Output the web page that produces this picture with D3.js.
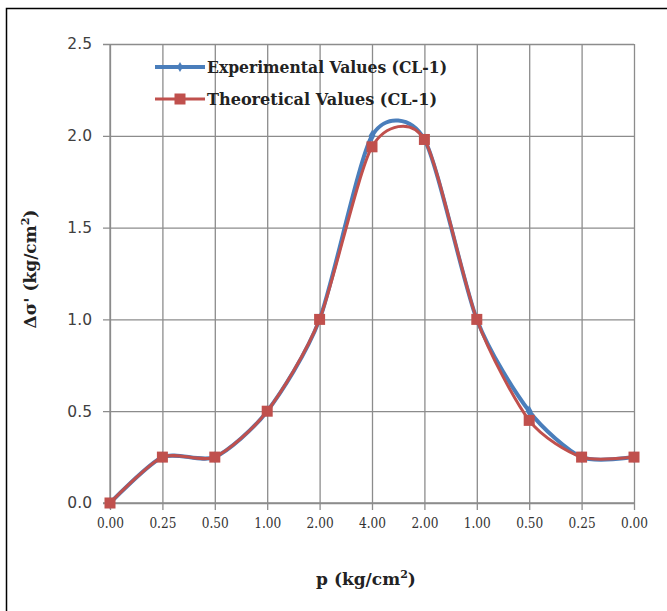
<!DOCTYPE html>
<html>
<head>
<meta charset="utf-8">
<script src="https://cdn.jsdelivr.net/npm/d3@7"></script>
<style>
  html, body { margin: 0; padding: 0; background: #fff; }
  svg { display: block; }
</style>
</head>
<body>
<svg id="chart" width="667" height="611"></svg>
<script>
// Loading sequence: applied pressure steps, loading then unloading
const pLabels = ["0.00", "0.25", "0.50", "1.00", "2.00", "4.00", "2.00", "1.00", "0.50", "0.25", "0.00"];
// Δσ' (kg/cm²) at each step
const experimental = [0, 0.25, 0.25, 0.50, 1.00, 2.00, 1.98, 1.00, 0.50, 0.25, 0.25];
const theoretical  = [0, 0.25, 0.25, 0.50, 1.00, 1.94, 1.98, 1.00, 0.45, 0.25, 0.25];
const yTicks = [0, 0.5, 1.0, 1.5, 2.0, 2.5];
const seriesNames = ["Experimental Values (CL-1)", "Theoretical Values (CL-1)"];

const svg = d3.select("#chart");
const serif = "'DejaVu Serif', 'Liberation Serif', serif";
const sans = "'DejaVu Sans', 'Liberation Sans', sans-serif";

const x = d3.scalePoint().domain(d3.range(pLabels.length)).range([110, 634]);
const y = d3.scaleLinear().domain([0, 2.5]).range([503, 44]);

// frame around the chart area
svg.append("path")
  .attr("d", "M6.5,611 L6.5,8.5 L667,8.5")
  .attr("fill", "none").attr("stroke", "#000").attr("stroke-width", 1.5);

const gridColor = "#8c8c8c";

// horizontal gridlines + y axis
const yAxis = d3.axisLeft(y).tickValues(yTicks).tickFormat(d3.format(".1f"))
  .tickSize(-(634 - 110)).tickPadding(18);
const gy = svg.append("g").attr("transform", "translate(110,0)").call(yAxis);
gy.select(".domain").remove();
gy.selectAll(".tick line").attr("stroke", gridColor).attr("stroke-width", 1.3).attr("x1", -7);
gy.selectAll(".tick text").attr("font-family", sans).attr("font-size", 15.5).attr("fill", "#404040");

// vertical gridlines + x axis
const xAxis = d3.axisBottom(x).tickFormat(i => pLabels[i])
  .tickSize(-(503 - 44)).tickPadding(14);
const gx = svg.append("g").attr("transform", "translate(0,503)").call(xAxis);
gx.select(".domain").remove();
gx.selectAll(".tick line").attr("stroke", gridColor).attr("stroke-width", 1.3).attr("y1", 7);
gx.selectAll(".tick text").attr("font-family", serif).attr("font-size", 15).attr("fill", "#333")
  .attr("textLength", 27).attr("lengthAdjust", "spacingAndGlyphs");

// axis baselines
svg.append("line").attr("x1", 110).attr("x2", 110).attr("y1", 44).attr("y2", 503)
  .attr("stroke", gridColor).attr("stroke-width", 1.3);
svg.append("line").attr("x1", 103).attr("x2", 634).attr("y1", 503).attr("y2", 503)
  .attr("stroke", gridColor).attr("stroke-width", 1.3);

const blue = "#4a7ebb";
const red = "#c0504d";

const line = d3.line()
  .x((d, i) => x(i))
  .y(d => y(d))
  .curve(d3.curveCardinal.tension(0.25));

// experimental series
svg.append("path").datum(experimental)
  .attr("d", line).attr("fill", "none")
  .attr("stroke", blue).attr("stroke-width", 4).attr("stroke-linejoin", "round");
svg.selectAll(".mExp").data(experimental).enter().append("path")
  .attr("class", "mExp")
  .attr("d", d3.symbol(d3.symbolDiamond, 40))
  .attr("transform", (d, i) => `translate(${x(i)},${y(d)})`)
  .attr("fill", blue);

// theoretical series
svg.append("path").datum(theoretical)
  .attr("d", line).attr("fill", "none")
  .attr("stroke", red).attr("stroke-width", 3).attr("stroke-linejoin", "round");
svg.selectAll(".mTh").data(theoretical).enter().append("rect")
  .attr("class", "mTh")
  .attr("x", (d, i) => x(i) - 5.5).attr("y", d => y(d) - 5.5)
  .attr("width", 11).attr("height", 11)
  .attr("fill", red);

// legend
const legend = svg.append("g");
const legendRows = [
  { name: seriesNames[0], color: blue, width: 4, marker: "diamond", yy: 67, len: 240 },
  { name: seriesNames[1], color: red, width: 3, marker: "square", yy: 99, len: 230 }
];
legendRows.forEach(r => {
  legend.append("line").attr("x1", 155).attr("x2", 205).attr("y1", r.yy).attr("y2", r.yy)
    .attr("stroke", r.color).attr("stroke-width", r.width);
  if (r.marker === "square") {
    legend.append("rect").attr("x", 174.5).attr("y", r.yy - 5.5).attr("width", 11).attr("height", 11)
      .attr("fill", r.color);
  } else {
    legend.append("path").attr("d", d3.symbol(d3.symbolDiamond, 30))
      .attr("transform", `translate(180,${r.yy})`).attr("fill", r.color);
  }
  legend.append("text").attr("x", 207).attr("y", r.yy + 6)
    .attr("font-family", serif).attr("font-weight", "bold").attr("font-size", 16)
    .attr("textLength", r.len).attr("lengthAdjust", "spacingAndGlyphs")
    .attr("fill", "#222").text(r.name);
});

// axis titles
const yTitle = svg.append("text")
  .attr("transform", "translate(36,269) rotate(-90)")
  .attr("text-anchor", "middle")
  .attr("font-family", serif).attr("font-weight", "bold").attr("font-size", 17).attr("fill", "#222");
yTitle.append("tspan").text("Δσ' (kg/cm");
yTitle.append("tspan").attr("dy", -7).attr("font-size", 11).text("2");
yTitle.append("tspan").attr("dy", 7).text(")");

const xTitle = svg.append("text")
  .attr("x", 366).attr("y", 585)
  .attr("text-anchor", "middle")
  .attr("font-family", serif).attr("font-weight", "bold").attr("font-size", 17).attr("fill", "#222");
xTitle.append("tspan").text("p (kg/cm");
xTitle.append("tspan").attr("dy", -7).attr("font-size", 11).text("2");
xTitle.append("tspan").attr("dy", 7).text(")");
</script>
</body>
</html>
